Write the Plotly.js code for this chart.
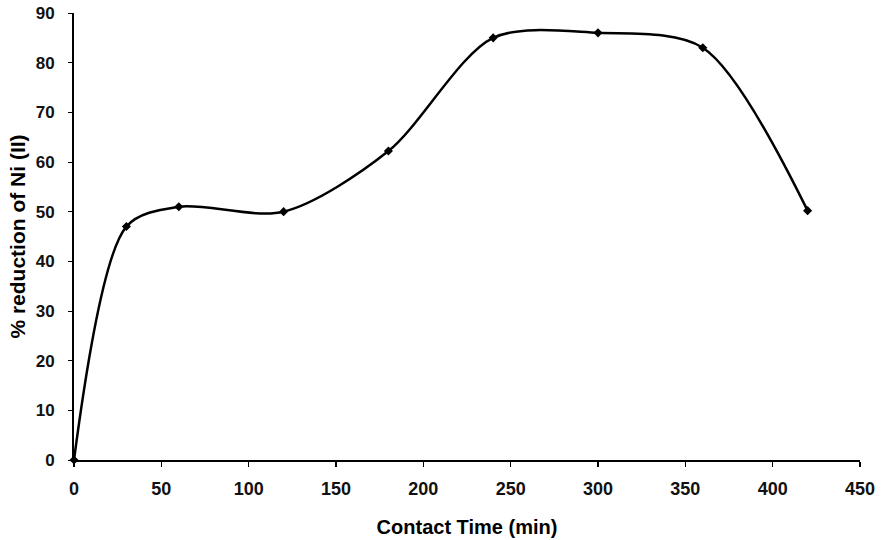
<!DOCTYPE html>
<html>
<head>
<meta charset="utf-8">
<script src="https://cdn.plot.ly/plotly-3.0.1.min.js"></script>
<style>html,body{margin:0;padding:0;background:#fff;}#chart{width:885px;height:540px;}</style>
</head>
<body>
<div id="chart"></div>
<script>
const contactTime = [0, 30, 60, 120, 180, 240, 300, 360, 420];
const reductionNi = [0, 47, 51, 50, 62.2, 85, 86, 83, 50.2];
const xTickVals = [0, 50, 100, 150, 200, 250, 300, 350, 400, 450];
const yTickVals = [0, 10, 20, 30, 40, 50, 60, 70, 80, 90];

const trace = {
  x: contactTime,
  y: reductionNi,
  mode: 'lines+markers',
  line: {color: '#000', width: 2.5, shape: 'spline', smoothing: 0.85},
  marker: {symbol: 'diamond', size: 7, color: '#000'},
  cliponaxis: false,
  hoverinfo: 'x+y'
};

const layout = {
  width: 885, height: 540,
  margin: {l: 74, r: 25, t: 13, b: 80},
  paper_bgcolor: '#fff', plot_bgcolor: '#fff',
  showlegend: false,
  font: {family: 'Liberation Sans, Arial, sans-serif', color: '#000'},
  xaxis: {
    range: [0, 450], tickvals: xTickVals, ticktext: xTickVals.map(String),
    showgrid: false, zeroline: false, showline: true, linecolor: '#000', linewidth: 2,
    ticks: 'outside', ticklen: 5, tickwidth: 1.5, tickcolor: '#000',
    ticklabelstandoff: 6,
    tickfont: {size: 18, weight: 'bold', color: '#111'},
    title: {text: 'Contact Time (min)', font: {size: 20, weight: 'bold', color: '#000'}, standoff: 22}
  },
  yaxis: {
    range: [0, 90], tickvals: yTickVals, ticktext: yTickVals.map(String),
    showgrid: false, zeroline: false, showline: true, linecolor: '#000', linewidth: 2,
    ticks: 'outside', ticklen: 4, tickwidth: 1, tickcolor: '#000',
    ticklabelstandoff: 10,
    tickfont: {size: 17, weight: 'bold', color: '#111'},
    title: {text: '% reduction of Ni (II)', font: {size: 21, weight: 'bold', color: '#000'}, standoff: 4}
  }
};

Plotly.newPlot('chart', [trace], layout, {displayModeBar: false, staticPlot: true});
</script>
</body>
</html>
